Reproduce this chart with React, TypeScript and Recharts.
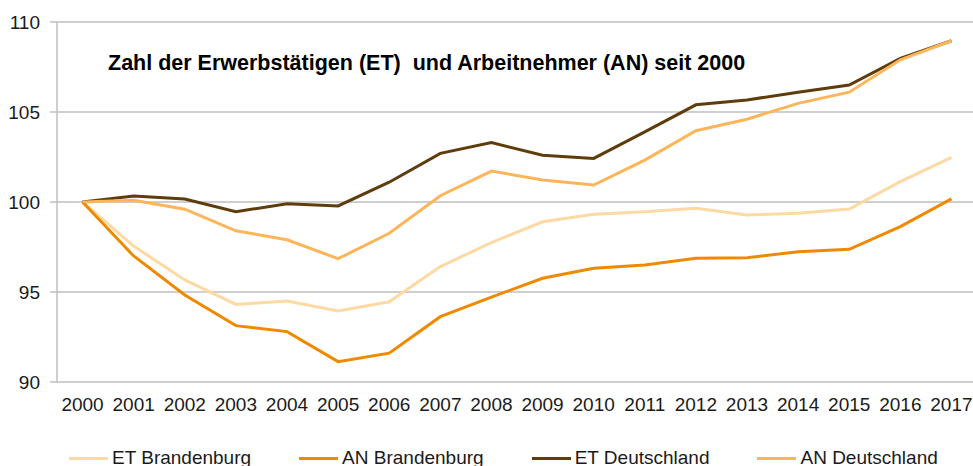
import React from 'react';
import { LineChart, Line, XAxis, YAxis, CartesianGrid } from 'recharts';

const years = [2000, 2001, 2002, 2003, 2004, 2005, 2006, 2007, 2008, 2009, 2010, 2011, 2012, 2013, 2014, 2015, 2016, 2017];

const etBrandenburg = [100, 97.55, 95.67, 94.31, 94.5, 93.94, 94.46, 96.41, 97.75, 98.9, 99.32, 99.46, 99.65, 99.28, 99.37, 99.61, 101.13, 102.48];
const anBrandenburg = [100, 97.0, 94.83, 93.13, 92.8, 91.13, 91.6, 93.63, 94.72, 95.76, 96.32, 96.5, 96.87, 96.9, 97.24, 97.37, 98.63, 100.17];
const etDeutschland = [100, 100.33, 100.17, 99.46, 99.9, 99.78, 101.1, 102.7, 103.3, 102.6, 102.42, 103.9, 105.4, 105.67, 106.1, 106.5, 107.98, 108.96];
const anDeutschland = [100, 100.1, 99.6, 98.4, 97.9, 96.85, 98.26, 100.35, 101.72, 101.22, 100.94, 102.33, 103.96, 104.6, 105.48, 106.1, 107.9, 108.96];

const yTicks = [90, 95, 100, 105, 110];
const title = 'Zahl der Erwerbstätigen (ET)  und Arbeitnehmer (AN) seit 2000';

const series = [
  { key: 'etBB', name: 'ET Brandenburg', values: etBrandenburg, color: '#FDD9A3' },
  { key: 'anBB', name: 'AN Brandenburg', values: anBrandenburg, color: '#EF8A00' },
  { key: 'etD', name: 'ET Deutschland', values: etDeutschland, color: '#5E3C0C' },
  { key: 'anD', name: 'AN Deutschland', values: anDeutschland, color: '#FDB55A' },
];

const data = years.map((year, i) => {
  const row: Record<string, number> = { year };
  series.forEach((s) => (row[s.key] = s.values[i]));
  return row;
});

// tick marks sit between the years, like a category axis
const boundaryTicks = [...years.map((y) => y - 0.5), years[years.length - 1] + 0.5];
const domain = [years[0] - 0.5, years[years.length - 1] + 0.5];

const FONT = '"Liberation Sans", Arial, sans-serif';
const GRID = '#BFBFBF';

const App: React.FC = () => {
  return (
    <div style={{ position: 'absolute', left: 0, top: 0, width: 973, height: 466, overflow: 'hidden', background: '#fff', fontFamily: FONT }}>
      <LineChart width={977} height={466} data={data} margin={{ top: 22, right: 0, left: 0, bottom: 0 }}>
        <CartesianGrid vertical={false} stroke={GRID} strokeWidth={1.5} />
        <XAxis
          type="number"
          dataKey="year"
          domain={domain}
          ticks={boundaryTicks}
          tickFormatter={() => ''}
          height={0}
          tickSize={6}
          stroke={GRID}
          axisLine={{ stroke: GRID, strokeWidth: 1.5 }}
          tickLine={{ stroke: GRID, strokeWidth: 1.5 }}
        />
        <XAxis
          xAxisId="labels"
          type="number"
          dataKey="year"
          domain={domain}
          ticks={years}
          interval={0}
          height={84}
          axisLine={false}
          tickLine={false}
          tickSize={6}
          tickMargin={10}
          tick={{ fill: '#1a1a1a', fontSize: 19, fontFamily: FONT }}
        />
        <YAxis
          domain={[90, 110]}
          ticks={yTicks}
          width={57}
          tickSize={7}
          tickMargin={10}
          axisLine={{ stroke: GRID, strokeWidth: 1.5 }}
          tickLine={{ stroke: GRID, strokeWidth: 1.5 }}
          tick={{ fill: '#1a1a1a', fontSize: 19, fontFamily: FONT }}
        />
        {series.map((s) => (
          <Line
            key={s.key}
            dataKey={s.key}
            name={s.name}
            stroke={s.color}
            strokeWidth={3}
            dot={false}
            isAnimationActive={false}
          />
        ))}
      </LineChart>
      <div style={{ position: 'absolute', left: 108, top: 52, fontSize: 21.5, lineHeight: '22px', fontWeight: 'bold', whiteSpace: 'pre', color: '#000' }}>
        {title}
      </div>
      <div style={{ position: 'absolute', left: 69, top: 448, display: 'flex', alignItems: 'center', gap: 48, fontSize: 19, lineHeight: '20px', color: '#1a1a1a' }}>
        {series.map((s) => (
          <div key={s.key} style={{ display: 'flex', alignItems: 'center', gap: 4 }}>
            <div style={{ width: 39, height: 3, background: s.color }} />
            <span>{s.name}</span>
          </div>
        ))}
      </div>
    </div>
  );
};

export default App;
